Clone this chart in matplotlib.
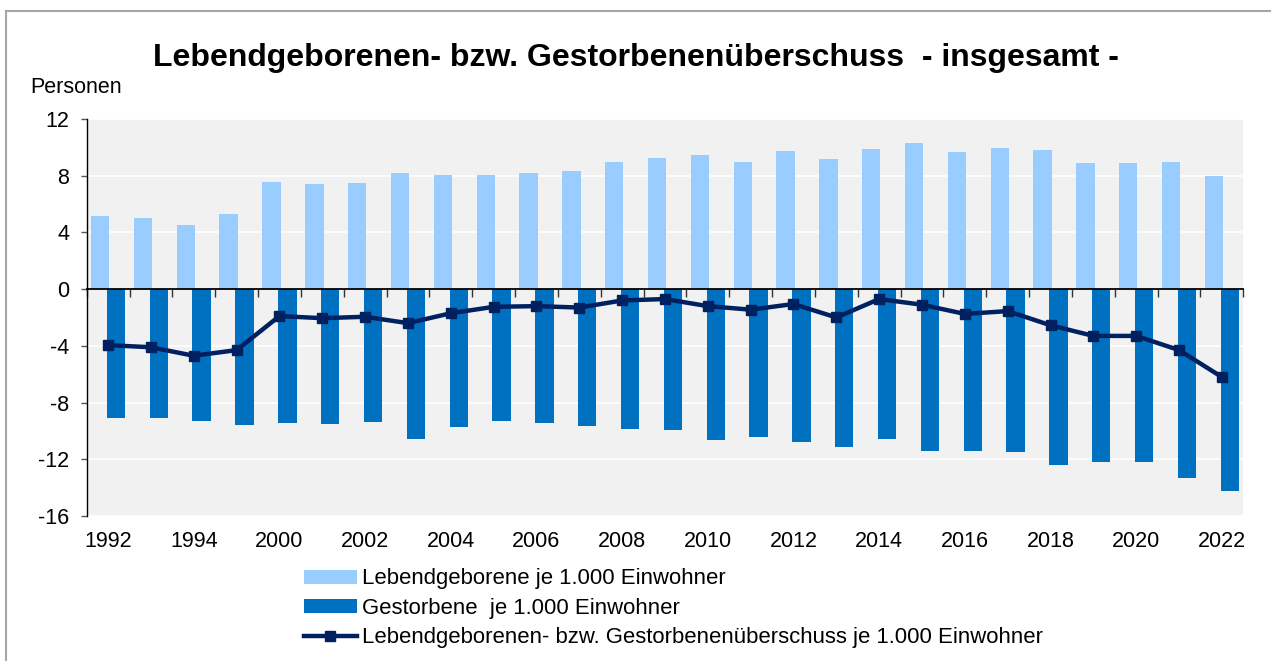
import numpy as np
import matplotlib.pyplot as plt
from matplotlib.lines import Line2D

plt.rcParams["font.family"] = ["Liberation Sans", "DejaVu Sans"]
plt.rcParams["axes.unicode_minus"] = False

# Jahre (1996-1999 fehlen in der Reihe)
jahre = ["1992", "1993", "1994", "1995"] + [str(j) for j in range(2000, 2023)]

# Lebendgeborene je 1.000 Einwohner
lebendgeborene = [5.15, 5.0, 4.5, 5.3, 7.55, 7.4, 7.5, 8.2, 8.05, 8.05, 8.2, 8.3, 9.0, 9.25,
                  9.45, 9.0, 9.75, 9.15, 9.85, 10.3, 9.65, 9.95, 9.8, 8.9, 8.9, 9.0, 8.0]
# Gestorbene je 1.000 Einwohner (negativ dargestellt)
gestorbene = [-9.1, -9.1, -9.3, -9.6, -9.45, -9.5, -9.4, -10.6, -9.7, -9.3, -9.45, -9.65, -9.85, -9.95,
              -10.65, -10.45, -10.8, -11.15, -10.6, -11.4, -11.4, -11.5, -12.4, -12.2, -12.2, -13.3, -14.25]
# Ueberschuss je 1.000 Einwohner
ueberschuss = [-3.95, -4.1, -4.7, -4.3, -1.9, -2.05, -1.95, -2.4, -1.7, -1.25, -1.2, -1.3, -0.8, -0.7,
               -1.2, -1.45, -1.05, -2.0, -0.7, -1.1, -1.75, -1.55, -2.55, -3.3, -3.3, -4.3, -6.2]

hell = "#99CCFF"
mittel = "#0070C0"
dunkel = "#002060"

fig = plt.figure(figsize=(12.71, 6.61), dpi=100)
ax = fig.add_axes([0.0682, 0.2194, 0.9100, 0.6006])
ax.set_facecolor("#F1F1F1")

x = np.arange(len(jahre))
b = 0.43
p1 = ax.bar(x - 0.185, lebendgeborene, width=b, color=hell, zorder=2)
p2 = ax.bar(x + 0.185, gestorbene, width=b, color=mittel, zorder=2)
ax.plot(x, ueberschuss, color=dunkel, lw=3.2, marker="s", ms=6.5, zorder=4)

ax.set_xlim(-0.5, len(jahre) - 0.5)
ax.set_ylim(-16, 12)
ax.set_yticks(np.arange(-16, 13, 4))
ax.yaxis.grid(True, color="white", lw=1.2, zorder=1)
ax.tick_params(axis="y", labelsize=15.5, length=4.5, width=1, color="#555555", pad=8)

for s in ["top", "right"]:
    ax.spines[s].set_visible(False)
ax.spines["left"].set_linewidth(1)
ax.spines["bottom"].set_position(("data", 0))
ax.spines["bottom"].set_linewidth(1.3)
ax.spines["bottom"].set_zorder(3)

# Teilstriche zwischen den Kategorien an der Nulllinie
ax.set_xticks(np.arange(-0.5, len(jahre), 1))
ax.tick_params(axis="x", length=6, width=1, color="#333333", labelbottom=False)

# Jahresbeschriftung am unteren Rand
sec = ax.secondary_xaxis(0.0)
sec.set_xticks(x[::2])
sec.set_xticklabels(jahre[::2])
sec.tick_params(length=0, labelsize=15.5, pad=11)
sec.spines["bottom"].set_visible(False)

fig.text(0.5, 0.913, "Lebendgeborenen- bzw. Gestorbenenüberschuss  - insgesamt -",
         ha="center", va="center", fontsize=23, fontweight="bold")
fig.text(0.024, 0.868, "Personen", ha="left", va="center", fontsize=15.5)

linie = Line2D([], [], color=dunkel, lw=3.2, marker="s", ms=6.5)
fig.legend([p1, p2, linie],
           ["Lebendgeborene je 1.000 Einwohner",
            "Gestorbene  je 1.000 Einwohner",
            "Lebendgeborenen- bzw. Gestorbenenüberschuss je 1.000 Einwohner"],
           loc="upper left", bbox_to_anchor=(0.239, 0.140), frameon=False,
           fontsize=15.9, handlelength=2.4, handleheight=0.6, handletextpad=0.25,
           labelspacing=0.38, borderpad=0, borderaxespad=0)

# Rahmen oben und links
fig.add_artist(Line2D([0.005, 1.0], [0.984, 0.984], color="#A6A6A6", lw=1.5))
fig.add_artist(Line2D([0.005, 0.005], [0.0, 0.984], color="#A6A6A6", lw=1.5))

fig.savefig("out.png", dpi=100)
